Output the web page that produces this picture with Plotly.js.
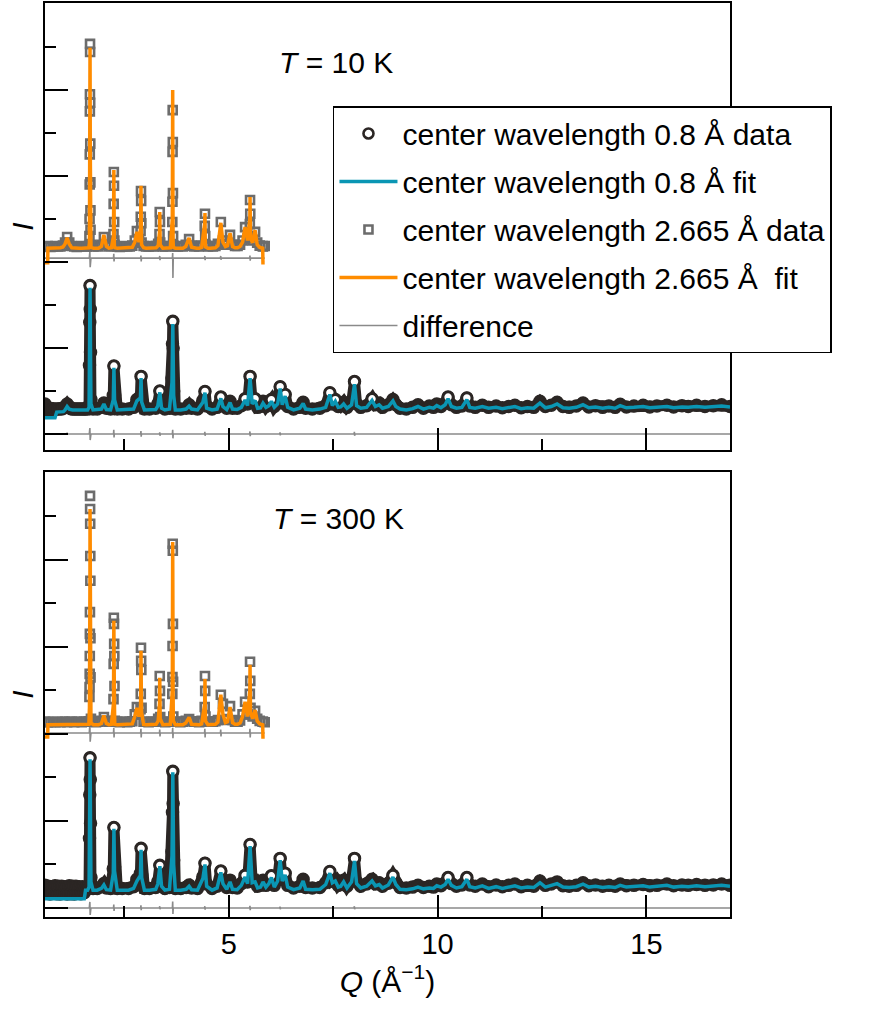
<!DOCTYPE html>
<html><head><meta charset="utf-8">
<script src="https://cdn.plot.ly/plotly-3.0.1.min.js"></script>
<style>html,body{margin:0;padding:0;background:#fff}#chart{width:870px;height:1009px}</style>
</head><body><div id="chart"></div>
<script>
// ---------- 0.8 Å data (Q grid shared by both temperatures) ----------
const q08 = [0.60,0.64,0.68,0.72,0.76,0.80,0.84,0.88,0.92,0.96,
 1.00,1.04,1.08,1.13,1.18,1.22,1.26,1.30,1.34,1.38,
 1.42,1.46,1.50,1.54,1.57,1.62,1.655,1.665,1.672,1.678,
 1.684,1.69,1.70,1.75,1.85,1.95,2.01,2.07,2.17,2.235,
 2.25,2.265,2.33,2.45,2.60,2.72,2.80,2.885,2.90,2.915,
 2.98,3.10,3.25,3.30,3.35,3.39,3.47,3.58,3.64,3.652,
 3.66,3.668,3.68,3.72,3.85,3.98,4.05,4.11,4.25,4.38,
 4.43,4.47,4.60,4.72,4.81,4.86,4.95,5.03,5.09,5.20,
 5.30,5.39,5.45,5.51,5.56,5.63,5.69,5.76,5.82,5.89,
 5.96,6.02,6.09,6.17,6.23,6.28,6.35,6.41,6.55,6.70,
 6.78,6.84,7.00,7.18,7.32,7.42,7.48,7.55,7.62,7.68,
 7.75,7.83,7.94,8.01,8.06,8.16,8.30,8.43,8.51,8.60,
 8.68,8.82,8.93,9.00,9.10,9.25,9.40,9.53,9.66,9.80,
 9.90,9.98,10.08,10.18,10.25,10.33,10.45,10.58,10.70,10.77,
 10.90,11.07,11.22,11.40,11.55,11.70,11.85,12.00,12.15,12.30,
 12.45,12.58,12.72,12.86,13.00,13.15,13.32,13.48,13.62,13.78,
 13.95,14.10,14.25,14.37,14.52,14.70,14.92,15.08,15.25,15.49,
 15.65,15.85,16.00,16.20,16.40,16.60,16.80,17.00];

const obs08_10K = [0.70,0.62,0.56,0.60,0.57,0.59,0.57,0.58,0.58,0.59,
 0.58,0.60,0.64,0.70,0.64,0.59,0.58,0.58,0.58,0.58,
 0.58,0.58,0.58,0.58,0.58,0.58,0.66,1.60,2.60,3.45,
 2.90,1.90,0.80,0.58,0.58,0.62,0.72,0.60,0.58,0.90,
 1.58,0.90,0.58,0.58,0.58,0.62,0.80,0.88,1.34,0.78,
 0.58,0.58,0.60,0.70,1.00,0.65,0.58,0.60,1.30,2.10,
 2.62,2.00,1.00,0.58,0.58,0.60,0.68,0.60,0.58,0.78,
 0.99,0.65,0.58,0.62,0.86,0.68,0.60,0.76,0.60,0.60,
 0.66,0.82,0.70,1.34,0.74,0.82,0.62,0.64,0.76,0.64,
 0.70,0.80,0.64,0.74,1.10,0.72,0.92,0.64,0.58,0.62,
 0.74,0.60,0.58,0.60,0.66,0.96,0.70,0.80,0.64,0.66,
 0.74,0.62,0.72,1.22,0.70,0.62,0.66,0.82,0.68,0.72,
 0.62,0.68,0.80,0.68,0.60,0.58,0.62,0.68,0.60,0.65,
 0.62,0.70,0.64,0.72,0.86,0.68,0.62,0.65,0.84,0.65,
 0.62,0.67,0.62,0.65,0.61,0.64,0.67,0.61,0.64,0.62,
 0.76,0.64,0.67,0.74,0.64,0.62,0.65,0.72,0.63,0.66,
 0.62,0.65,0.62,0.69,0.63,0.65,0.67,0.63,0.65,0.67,
 0.63,0.66,0.64,0.67,0.64,0.66,0.68,0.64];

const calc08_10K = [0.38,0.38,0.38,0.38,0.38,0.38,0.38,0.51,0.51,0.51,
 0.51,0.52,0.56,0.64,0.58,0.56,0.56,0.56,0.56,0.56,
 0.56,0.56,0.56,0.56,0.56,0.56,0.62,1.50,2.50,3.40,
 2.80,1.80,0.70,0.56,0.56,0.58,0.70,0.57,0.56,0.80,
 1.54,0.80,0.56,0.56,0.56,0.58,0.77,0.84,1.30,0.74,
 0.56,0.56,0.57,0.65,0.97,0.60,0.56,0.58,1.20,2.00,
 2.56,1.90,0.90,0.56,0.56,0.58,0.65,0.58,0.56,0.74,
 0.96,0.60,0.56,0.58,0.83,0.64,0.57,0.73,0.58,0.57,
 0.62,0.79,0.66,1.30,0.70,0.78,0.60,0.61,0.72,0.62,
 0.66,0.76,0.62,0.70,1.06,0.68,0.88,0.62,0.56,0.60,
 0.71,0.58,0.56,0.58,0.62,0.92,0.66,0.76,0.62,0.63,
 0.70,0.60,0.68,1.16,0.66,0.60,0.62,0.78,0.64,0.68,
 0.60,0.64,0.77,0.64,0.58,0.56,0.59,0.64,0.58,0.62,
 0.60,0.66,0.61,0.68,0.82,0.64,0.60,0.62,0.80,0.62,
 0.60,0.64,0.60,0.62,0.59,0.62,0.64,0.59,0.61,0.60,
 0.72,0.61,0.64,0.70,0.61,0.60,0.62,0.68,0.61,0.63,
 0.60,0.62,0.60,0.66,0.61,0.62,0.64,0.61,0.62,0.64,
 0.61,0.63,0.62,0.64,0.62,0.63,0.65,0.63];

const obs08_300K = [0.52,0.34,0.50,0.32,0.49,0.34,0.51,0.33,0.50,0.32,
 0.50,0.34,0.49,0.32,0.51,0.33,0.50,0.32,0.50,0.34,
 0.49,0.33,0.49,0.35,0.46,0.45,0.52,1.60,2.60,3.45,
 2.95,1.95,0.70,0.45,0.45,0.49,0.56,0.46,0.45,0.90,
 1.85,0.95,0.45,0.45,0.45,0.49,0.66,0.80,1.37,0.75,
 0.45,0.45,0.47,0.60,0.98,0.55,0.45,0.47,1.30,2.20,
 3.14,2.40,1.10,0.45,0.45,0.47,0.53,0.46,0.45,0.72,
 1.03,0.55,0.45,0.50,0.85,0.60,0.47,0.64,0.47,0.46,
 0.56,0.75,0.60,1.46,0.62,0.64,0.50,0.52,0.64,0.52,
 0.60,0.74,0.52,0.66,1.14,0.66,0.80,0.52,0.46,0.50,
 0.66,0.47,0.46,0.47,0.58,0.84,0.62,0.66,0.52,0.55,
 0.64,0.50,0.65,1.14,0.60,0.50,0.55,0.66,0.55,0.58,
 0.50,0.57,0.75,0.58,0.47,0.46,0.48,0.52,0.47,0.50,
 0.48,0.55,0.51,0.58,0.70,0.56,0.50,0.53,0.70,0.53,
 0.50,0.55,0.49,0.53,0.49,0.52,0.55,0.49,0.52,0.50,
 0.62,0.52,0.55,0.60,0.51,0.50,0.52,0.58,0.51,0.53,
 0.50,0.52,0.50,0.55,0.51,0.52,0.54,0.51,0.52,0.55,
 0.51,0.53,0.52,0.54,0.52,0.53,0.55,0.52];

const calc08_300K = [0.21,0.21,0.21,0.21,0.21,0.21,0.21,0.21,0.21,0.21,
 0.21,0.21,0.21,0.21,0.21,0.21,0.21,0.21,0.21,0.21,
 0.21,0.21,0.21,0.21,0.41,0.41,0.48,1.50,2.50,3.42,
 2.85,1.85,0.60,0.41,0.41,0.45,0.53,0.42,0.41,0.80,
 1.82,0.85,0.41,0.41,0.41,0.45,0.62,0.75,1.34,0.70,
 0.41,0.41,0.43,0.55,0.96,0.50,0.41,0.43,1.20,2.10,
 3.12,2.30,1.00,0.41,0.41,0.43,0.50,0.42,0.41,0.68,
 1.00,0.50,0.41,0.46,0.82,0.56,0.43,0.60,0.43,0.42,
 0.52,0.71,0.56,1.42,0.58,0.60,0.46,0.48,0.60,0.48,
 0.56,0.70,0.48,0.62,1.10,0.62,0.76,0.48,0.42,0.46,
 0.62,0.43,0.42,0.43,0.54,0.80,0.58,0.62,0.48,0.50,
 0.60,0.46,0.60,1.08,0.56,0.46,0.50,0.62,0.51,0.54,
 0.46,0.53,0.71,0.54,0.43,0.42,0.44,0.48,0.44,0.46,
 0.45,0.51,0.48,0.54,0.66,0.52,0.46,0.49,0.66,0.49,
 0.46,0.51,0.45,0.49,0.45,0.48,0.51,0.46,0.48,0.47,
 0.58,0.48,0.51,0.56,0.48,0.47,0.49,0.55,0.48,0.50,
 0.47,0.49,0.47,0.52,0.48,0.49,0.51,0.48,0.49,0.52,
 0.48,0.50,0.49,0.51,0.49,0.50,0.52,0.50];

// ---------- 2.665 Å data (Q grid shared by both temperatures) ----------
const q2665 = [0.600,0.665,0.670,0.73,0.79,0.85,0.91,0.97,1.03,1.08,
 1.13,1.18,1.24,1.30,1.36,1.42,1.48,1.54,1.60,1.650,
 1.664,1.667,1.670,1.672,1.674,1.676,1.678,1.680,1.682,1.684,
 1.686,1.688,1.690,1.700,1.76,1.82,1.88,1.95,2.01,2.07,
 2.13,2.19,2.240,2.244,2.248,2.252,2.256,2.260,2.264,2.27,
 2.33,2.39,2.45,2.51,2.57,2.63,2.69,2.75,2.80,2.85,
 2.888,2.893,2.898,2.902,2.906,2.912,2.96,3.02,3.08,3.14,
 3.20,3.26,3.31,3.342,3.347,3.352,3.358,3.42,3.48,3.54,
 3.60,3.648,3.651,3.654,3.657,3.660,3.663,3.667,3.672,3.72,
 3.78,3.84,3.90,3.97,4.05,4.11,4.17,4.23,4.29,4.35,
 4.424,4.430,4.436,4.442,4.50,4.56,4.62,4.68,4.74,4.81,
 4.86,4.92,4.97,5.03,5.09,5.15,5.21,5.27,5.33,5.39,
 5.45,5.504,5.509,5.514,5.52,5.57,5.63,5.68,5.74,5.812,
 5.818,5.86];

const obs2665_10K = [4.36,4.37,4.36,4.35,4.36,4.37,4.36,4.36,4.38,4.45,
 4.58,4.45,4.37,4.36,4.35,4.36,4.37,4.36,4.36,4.37,
 4.60,5.00,5.80,6.50,7.50,7.90,9.07,8.88,7.70,6.75,
 5.85,5.20,4.75,4.40,4.36,4.37,4.36,4.40,4.58,4.40,
 4.36,4.37,4.65,5.35,6.09,5.77,4.93,4.50,4.40,4.37,
 4.36,4.35,4.36,4.37,4.36,4.36,4.38,4.50,4.72,4.50,
 4.72,5.05,5.65,5.42,4.90,4.45,4.37,4.36,4.36,4.37,
 4.36,4.37,4.42,4.65,5.16,4.93,4.45,4.36,4.36,4.37,
 4.37,4.93,5.40,6.56,7.53,6.79,5.60,4.60,4.38,4.36,
 4.36,4.37,4.36,4.40,4.53,4.38,4.36,4.37,4.36,4.38,
 4.84,5.12,4.60,4.40,4.36,4.37,4.36,4.37,4.42,4.93,
 4.50,4.40,4.42,4.63,4.40,4.37,4.37,4.40,4.50,4.81,
 4.55,4.88,5.44,5.12,4.60,4.50,4.70,4.45,4.38,4.37,
 4.36,4.37];

const calc2665_10K = [3.98,3.98,4.32,4.32,4.32,4.32,4.33,4.33,4.35,4.42,
 4.56,4.42,4.33,4.32,4.32,4.32,4.32,4.32,4.32,4.33,
 4.45,4.90,5.60,6.30,7.30,8.00,8.98,8.50,7.50,6.60,
 5.70,5.00,4.50,4.34,4.32,4.32,4.32,4.36,4.63,4.36,
 4.32,4.33,4.60,5.30,6.14,5.60,4.80,4.45,4.34,4.33,
 4.32,4.32,4.32,4.32,4.32,4.32,4.34,4.46,4.70,4.46,
 4.80,5.20,5.77,5.30,4.80,4.40,4.33,4.32,4.32,4.32,
 4.32,4.33,4.38,4.70,5.16,4.80,4.40,4.32,4.32,4.32,
 4.33,5.00,5.60,6.80,8.00,7.00,5.50,4.50,4.34,4.32,
 4.32,4.32,4.32,4.36,4.56,4.34,4.32,4.32,4.32,4.34,
 4.90,5.14,4.55,4.35,4.32,4.32,4.32,4.33,4.38,4.91,
 4.46,4.36,4.38,4.67,4.36,4.33,4.33,4.36,4.46,4.81,
 4.50,5.00,5.51,5.00,4.55,4.45,4.74,4.40,4.34,4.32,
 3.98,3.98];

const obs2665_300K = [4.28,4.27,4.28,4.27,4.28,4.27,4.28,4.27,4.28,4.28,
 4.27,4.28,4.28,4.27,4.28,4.28,4.27,4.28,4.28,4.29,
 4.85,5.08,5.38,5.79,6.30,6.80,9.47,9.17,8.83,8.09,
 7.52,6.20,5.30,4.35,4.28,4.27,4.28,4.30,4.39,4.30,
 4.28,4.28,4.80,5.61,6.67,6.53,6.07,5.79,5.10,4.30,
 4.28,4.27,4.28,4.28,4.27,4.28,4.29,4.45,4.62,4.45,
 4.57,4.92,5.98,5.68,5.47,4.60,4.28,4.28,4.27,4.28,
 4.28,4.28,4.35,4.69,5.33,4.99,4.39,4.28,4.27,4.28,
 4.28,4.92,5.31,6.02,8.37,8.21,6.53,5.20,4.40,4.28,
 4.28,4.27,4.28,4.30,4.34,4.29,4.28,4.28,4.27,4.30,
 4.62,5.33,4.99,4.40,4.28,4.28,4.28,4.29,4.32,4.90,
 4.69,4.32,4.34,4.64,4.32,4.28,4.28,4.31,4.45,4.74,
 4.45,4.92,5.66,5.22,4.60,4.40,4.53,4.35,4.30,4.28,
 4.28,4.27];

const calc2665_300K = [3.93,3.93,4.21,4.21,4.21,4.21,4.21,4.21,4.21,4.21,
 4.21,4.21,4.21,4.21,4.21,4.21,4.21,4.21,4.21,4.22,
 4.60,5.00,5.30,5.80,6.50,7.50,9.17,8.60,8.00,7.30,
 6.50,5.60,4.90,4.25,4.21,4.21,4.21,4.24,4.42,4.24,
 4.21,4.22,4.70,5.60,6.60,6.10,5.50,5.00,4.60,4.22,
 4.21,4.21,4.21,4.21,4.21,4.21,4.23,4.40,4.60,4.40,
 4.60,5.10,5.91,5.50,5.00,4.50,4.22,4.21,4.21,4.21,
 4.21,4.22,4.30,4.70,5.29,4.90,4.35,4.21,4.21,4.21,
 4.22,5.00,5.50,6.40,8.41,7.80,6.60,5.00,4.30,4.21,
 4.21,4.21,4.21,4.25,4.38,4.22,4.21,4.21,4.21,4.23,
 4.70,5.26,4.80,4.30,4.21,4.21,4.21,4.22,4.27,4.90,
 4.45,4.26,4.28,4.62,4.26,4.22,4.22,4.25,4.40,4.74,
 4.40,5.00,5.59,5.10,4.50,4.35,4.55,4.30,4.23,4.21,
 3.93,3.93];

// ---------- difference curves ----------
const qDiff08 = [0.60,1.12,1.13,1.14,1.66,1.674,1.682,1.70,2.24,2.247,2.253,2.26,
 2.89,2.897,2.903,2.91,3.34,3.347,3.353,3.36,3.65,3.657,3.663,3.67,4.42,4.427,4.433,4.44,
 5.50,5.507,5.513,5.52,6.22,6.227,6.233,6.24,8.00,8.007,8.013,8.02,17.00];
const diff08_10K = [0,0,0.03,0,0,0.14,-0.14,0,0,0.10,-0.08,0,
 0,0.07,-0.06,0,0,0.04,-0.04,0,0,0.10,-0.10,0,0,0.05,-0.04,0,
 0,0.06,-0.05,0,0,0.04,-0.03,0,0,0.05,-0.04,0,0];
const diff08_300K = [0,0,0,0,0,0.14,-0.16,0,0,0.08,-0.07,0,
 0,0.06,-0.05,0,0,0.04,-0.03,0,0,0.15,-0.14,0,0,0.04,-0.04,0,
 0,0.05,-0.05,0,0,0.03,-0.03,0,0,0.04,-0.03,0,0];
const qDiff2665 = [0.60,1.66,1.674,1.682,1.70,2.24,2.247,2.253,2.26,2.89,2.897,2.903,2.91,
 3.34,3.347,3.353,3.36,3.65,3.657,3.663,3.67,4.42,4.427,4.433,4.44,4.80,4.807,4.813,4.82,
 5.50,5.507,5.513,5.52,5.86];
const diff2665_10K = [0,0,0.14,-0.21,0,0,0.10,-0.08,0,0,0.06,-0.08,0,
 0,0.05,-0.05,0,0,0.12,-0.46,0,0,0.05,-0.05,0,0,0.05,-0.04,0,
 0,0.06,-0.06,0,0];
const diff2665_300K = [0,0,0.20,-0.20,0,0,0.12,-0.10,0,0,0.10,-0.10,0,
 0,0.08,-0.08,0,0,0.12,-0.12,0,0,0.10,-0.10,0,0,0.08,-0.08,0,
 0,0.10,-0.10,0,0];
const diffOffset2665 = {K10: 4.09, K300: 4.02};

const seriesNames = ['center wavelength 0.8 Å data','center wavelength 0.8 Å fit',
  'center wavelength 2.665 Å data','center wavelength 2.665 Å  fit','difference'];
const panelLabels = ['<i>T</i> = 10 K','<i>T</i> = 300 K'];

// ---------- sanity ----------
[[q08,obs08_10K],[q08,calc08_10K],[q08,obs08_300K],[q08,calc08_300K],
 [q2665,obs2665_10K],[q2665,calc2665_10K],[q2665,obs2665_300K],[q2665,calc2665_300K],
 [qDiff08,diff08_10K],[qDiff08,diff08_300K],[qDiff2665,diff2665_10K],[qDiff2665,diff2665_300K]]
 .forEach((p,i)=>{ if(p[0].length!==p[1].length) throw new Error('length mismatch #'+i+': '+p[0].length+' vs '+p[1].length); });

const FONT = 'Liberation Sans, Arial, Helvetica, sans-serif';
const C = {dark:'#2b2624', teal:'#0a96b4', orange:'#ff8c00', sq:'#6c6c6c', diff:'#8a8a8a'};

// isolated peak maxima of a data series (these get the open, white-centred circle on top)
function peakTops(q, y){
  const sorted = y.slice().sort((a,b)=>a-b);
  const med = sorted[Math.floor(sorted.length/2)];
  const xs=[], ys=[];
  for(let i=1;i<y.length-1;i++){
    if(y[i]>y[i-1] && y[i]>=y[i+1] && y[i]-Math.min(y[i-1],y[i+1])>0.12 && y[i]>med+0.14){ xs.push(q[i]); ys.push(y[i]); }
  }
  return {xs, ys};
}

function panelTraces(xa, ya, o08, c08, o26, c26, d08, d26, off26, leg){
  const tops = peakTops(q08, o08);
  return [
    {x:qDiff08, y:d08, xaxis:xa, yaxis:ya, mode:'lines', line:{color:C.diff, width:1.6},
     name:seriesNames[4], showlegend:leg, legendrank:5, legendgroup:'g5'},
    {x:qDiff2665, y:d26.map(v=>v+off26), xaxis:xa, yaxis:ya, mode:'lines', line:{color:C.diff, width:1.6},
     showlegend:false},
    {x:q2665, y:o26, xaxis:xa, yaxis:ya, mode:'markers',
     marker:{symbol:'square-open', size:8, color:C.sq, line:{width:2.6, color:C.sq}},
     name:seriesNames[2], showlegend:leg, legendrank:3, legendgroup:'g3'},
    {x:q2665, y:c26, xaxis:xa, yaxis:ya, mode:'lines', line:{color:C.orange, width:3.5},
     name:seriesNames[3], showlegend:leg, legendrank:4, legendgroup:'g4'},
    {x:q08, y:o08, xaxis:xa, yaxis:ya, mode:'lines+markers', line:{color:C.dark, width:11},
     marker:{symbol:'circle', size:12, color:C.dark, line:{width:1.5, color:C.dark}}, showlegend:false},
    {x:tops.xs, y:tops.ys, xaxis:xa, yaxis:ya, mode:'markers',
     marker:{symbol:'circle', size:10, color:'#ffffff', line:{width:2.6, color:C.dark}},
     name:seriesNames[0], showlegend:leg, legendrank:1, legendgroup:'g1'},
    {x:q08, y:c08, xaxis:xa, yaxis:ya, mode:'lines', line:{color:C.teal, width:3.5},
     name:seriesNames[1], showlegend:leg, legendrank:2, legendgroup:'g2'}
  ];
}

const data = [
  ...panelTraces('x2','y2', obs08_10K, calc08_10K, obs2665_10K, calc2665_10K, diff08_10K, diff2665_10K, diffOffset2665.K10, true),
  ...panelTraces('x','y', obs08_300K, calc08_300K, obs2665_300K, calc2665_300K, diff08_300K, diff2665_300K, diffOffset2665.K300, false)
];

const xBase = {range:[0.6,17.0], ticks:'inside', ticklen:22, tickwidth:2, tickcolor:'#000',
  tick0:0, dtick:5, minor:{ticks:'inside', dtick:2.5, ticklen:11, tickwidth:2, tickcolor:'#000', showgrid:false},
  showline:true, linewidth:2, linecolor:'#000', mirror:true, showgrid:false, zeroline:false,
  tickfont:{family:FONT, size:29, color:'#000'}};
const yBase = {ticks:'inside', ticklen:23, tickwidth:2, tickcolor:'#000', tick0:0, dtick:2,
  minor:{ticks:'inside', dtick:1, ticklen:11, tickwidth:2, tickcolor:'#000', showgrid:false},
  showline:true, linewidth:2, linecolor:'#000', mirror:true, showgrid:false, zeroline:false,
  showticklabels:false, automargin:false,
  title:{text:'<i>I</i>', font:{family:FONT, size:30, color:'#000'}, standoff:0}};

const layout = {
  width:870, height:1009, paper_bgcolor:'#fff', plot_bgcolor:'#fff',
  margin:{l:45, r:140, t:3, b:92},
  font:{family:FONT, color:'#000'},
  showlegend:true,
  xaxis: Object.assign({}, xBase, {anchor:'y', domain:[0,1], automargin:false,
    title:{text:'<i>Q</i> (Å<sup>−1</sup>)', font:{family:FONT, size:30, color:'#000'}, standoff:12}}),
  xaxis2: Object.assign({}, xBase, {anchor:'y2', matches:'x', showticklabels:false}),
  yaxis: Object.assign({}, yBase, {anchor:'x', domain:[0,0.4869], range:[-0.207,10.02]}),
  yaxis2: Object.assign({}, yBase, {anchor:'x2', domain:[0.5109,1], range:[-0.372,10.02]}),
  legend:{x:0.4204, y:0.8873, xanchor:'left', yanchor:'top', bgcolor:'#fff', bordercolor:'#000',
    borderwidth:1.5, font:{family:FONT, size:30, color:'#000'}, itemwidth:58,
    traceorder:'grouped', tracegroupgap:6},
  annotations:[
    {text:panelLabels[0], xref:'paper', yref:'paper', x:0.4248, y:0.9354, xanchor:'center', yanchor:'middle',
     showarrow:false, font:{family:FONT, size:30, color:'#000'}},
    {text:panelLabels[1], xref:'paper', yref:'paper', x:0.4285, y:0.4365, xanchor:'center', yanchor:'middle',
     showarrow:false, font:{family:FONT, size:30, color:'#000'}}
  ]
};

Plotly.newPlot('chart', data, layout, {staticPlot:true, displayModeBar:false});
</script></body></html>
